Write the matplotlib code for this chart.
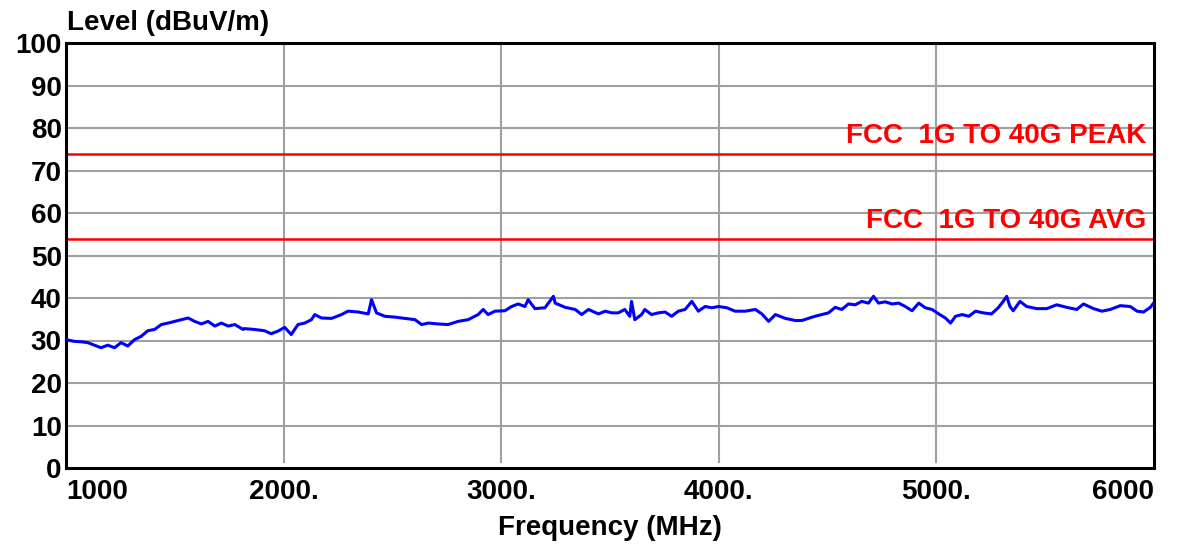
import matplotlib
matplotlib.use("Agg")
import matplotlib.pyplot as plt

freq_mhz = [1000, 1038, 1069, 1100, 1131, 1161, 1192, 1223, 1253, 1284, 1315, 1346, 1376, 1407,
            1438, 1469, 1499, 1530, 1561, 1591, 1622, 1653, 1684, 1714, 1745, 1776, 1814,
            1820, 1866, 1912, 1943, 1974, 2005, 2035, 2066, 2097, 2128, 2143, 2174, 2220, 2266,
            2296, 2343, 2389, 2404, 2427, 2465, 2511, 2558, 2604, 2634, 2665,
            2710, 2756, 2802, 2848, 2894, 2917, 2940, 2971, 3017, 3048, 3078, 3109, 3124, 3155,
            3201, 3240, 3248, 3294, 3340, 3370, 3401, 3447, 3478, 3508,
            3538, 3568, 3591, 3599, 3614, 3645, 3660, 3691, 3722, 3753, 3783, 3814, 3845, 3876,
            3906, 3937, 3968, 3999, 4037, 4075, 4122, 4168, 4198, 4229, 4260, 4306, 4352,
            4381, 4412, 4442, 4473, 4504, 4535, 4565, 4596, 4627, 4657, 4688, 4711, 4734, 4765,
            4796, 4827, 4857, 4888, 4919, 4949, 4980, 5011, 5041, 5065, 5088, 5118, 5149, 5180,
            5215, 5253, 5284, 5307, 5323, 5338, 5353, 5384, 5415, 5461, 5507, 5553, 5599, 5645,
            5676, 5722, 5760, 5799, 5845, 5891, 5922, 5952, 5983, 5998]
level_dbuv = [30.2, 29.8, 29.7, 29.5, 28.9, 28.3, 28.9, 28.3, 29.5, 28.7, 30.2, 31.0, 32.3, 32.6,
              33.75, 34.1, 34.5, 34.9, 35.3, 34.5, 33.9, 34.5, 33.4, 34.1, 33.4, 33.75, 32.6,
              32.8, 32.6, 32.3, 31.6, 32.2, 33.1, 31.4, 33.75, 34.1, 34.9, 36.1, 35.3, 35.2, 36.1,
              36.9, 36.7, 36.25, 39.6, 36.5, 35.7, 35.5, 35.2, 34.9, 33.75, 34.1,
              33.9, 33.75, 34.5, 34.9, 36.1, 37.3, 36.1, 36.9, 37.0, 38.0, 38.6, 38.0, 39.6, 37.5,
              37.7, 40.4, 38.8, 37.8, 37.3, 36.1, 37.3, 36.25, 36.9, 36.5,
              36.5, 37.3, 35.7, 39.2, 34.9, 36.1, 37.3, 36.1, 36.5, 36.7, 35.7, 36.9, 37.3, 39.2,
              36.9, 38.0, 37.7, 38.0, 37.7, 36.9, 36.9, 37.3, 36.25, 34.5, 36.1, 35.2, 34.7,
              34.7, 35.2, 35.7, 36.1, 36.5, 37.8, 37.3, 38.6, 38.4, 39.2, 38.8, 40.4, 38.8, 39.1,
              38.6, 38.8, 38.0, 37.0, 38.8, 37.7, 37.3, 36.25, 35.3, 34.1, 35.7, 36.1, 35.7, 36.9,
              36.5, 36.25, 37.7, 39.2, 40.4, 38.0, 37.0, 39.2, 38.0, 37.5, 37.5, 38.4, 37.8, 37.3,
              38.6, 37.5, 36.9, 37.3, 38.2, 38.0, 36.9, 36.7, 37.8, 38.8]

limit_peak = 74
limit_avg = 54
limit_names = ["FCC  1G TO 40G PEAK", "FCC  1G TO 40G AVG"]
x_ticks = [1000, 2000, 3000, 4000, 5000, 6000]
x_tick_labels = ["1000", "2000.", "3000.", "4000.", "5000.", "6000"]
y_ticks = list(range(0, 101, 10))

plt.rcParams['font.family'] = ['Liberation Sans', 'DejaVu Sans']
fig = plt.figure(figsize=(11.89, 5.45), dpi=100)
ax = fig.add_axes([66/1189, 77/545, (1154-66)/1189, (468-43)/545])

ax.set_xlim(1000, 6000)
ax.set_ylim(0, 100)

# grid
for yt in y_ticks[1:-1]:
    ax.axhline(yt, color='#a0a0a0', lw=1.5, zorder=1)
for xt in x_ticks[1:-1]:
    ax.axvline(xt, color='#a0a0a0', lw=1.5, zorder=1, ymin=0.015)

ax.axhline(limit_peak, color='#ff0000', lw=1.8, zorder=2)
ax.axhline(limit_avg, color='#ff0000', lw=1.8, zorder=2)
ax.text(5965, limit_peak + 2.4, limit_names[0], color='#ff0000', fontsize=20,
        fontweight='bold', ha='right', va='baseline', zorder=3)
ax.text(5965, limit_avg + 2.4, limit_names[1], color='#ff0000', fontsize=20,
        fontweight='bold', ha='right', va='baseline', zorder=3)

ax.plot(freq_mhz, level_dbuv, color='#0000ff', lw=2.2, zorder=4)

for s in ax.spines.values():
    s.set_color('black')
    s.set_linewidth(2.2)

ax.set_yticks(y_ticks)
ax.set_yticklabels([str(v) for v in y_ticks], fontsize=20, fontweight='bold')
ax.set_xticks(x_ticks)
ax.set_xticklabels(x_tick_labels, fontsize=20, fontweight='bold')
ax.tick_params(axis='both', length=0)
ax.tick_params(axis='y', pad=3)
ax.tick_params(axis='x', pad=8)
labels = ax.get_xticklabels()
labels[0].set_ha('left')
labels[-1].set_ha('right')

ax.set_xlabel("Frequency (MHz)", fontsize=20, fontweight='bold', labelpad=7)
fig.text(67/1189, 1 - 30/545, "Level (dBuV/m)", fontsize=20, fontweight='bold',
         ha='left', va='baseline')

fig.savefig("out.png", dpi=100)
